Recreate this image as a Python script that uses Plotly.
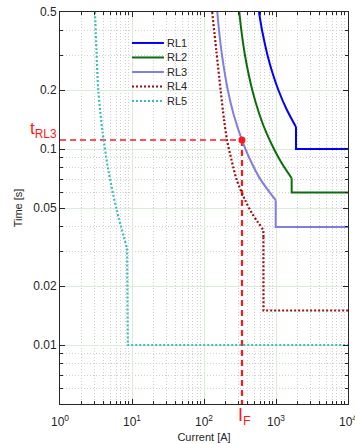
import math
import plotly.graph_objects as go

# ---------------- data ----------------
RL1_curve_I = [580, 643, 764, 877, 1078, 1397, 1896]
RL1_curve_t = [0.5, 0.4, 0.3, 0.25, 0.2, 0.16, 0.1295]
RL1_step_I = [1896, 1896, 10000]
RL1_step_t = [0.1295, 0.1, 0.1]

RL2_curve_I = [309, 331, 371, 468, 589, 741, 937, 1192, 1650]
RL2_curve_t = [0.5, 0.4, 0.3, 0.2, 0.15, 0.12, 0.1, 0.085, 0.0709]
RL2_step_I = [1650, 1650, 10000]
RL2_step_t = [0.0709, 0.06, 0.06]

RL3_curve_I = [153, 162, 178, 214, 258, 337, 426, 608, 990]
RL3_curve_t = [0.5, 0.4, 0.3, 0.2, 0.15, 0.111, 0.09, 0.07, 0.0548]
RL3_step_I = [990, 990, 10000]
RL3_step_t = [0.0548, 0.04, 0.04]

RL4_curve_I = [130, 148, 170, 190, 209, 241, 285, 371, 464, 553, 660, 668]
RL4_curve_t = [0.5, 0.32, 0.2, 0.1406, 0.111, 0.0879, 0.0695, 0.055, 0.047, 0.0426, 0.0386, 0.0355]
RL4_step_I = [668, 670, 10000]
RL4_step_t = [0.0355, 0.015, 0.015]

RL5_curve_I = [3.06, 3.21, 3.40, 3.87, 4.69, 6.13, 8.53]
RL5_curve_t = [0.5, 0.32, 0.2, 0.125, 0.0781, 0.0489, 0.0311]
RL5_step_I = [8.53, 8.75, 10000]
RL5_step_t = [0.0311, 0.01, 0.01]

I_F = 337
t_RL3 = 0.111

X_TICKS = [1, 10, 100, 1000, 10000]
X_TICKTEXT = ["10<sup>0</sup>", "10<sup>1</sup>", "10<sup>2</sup>", "10<sup>3</sup>", "10<sup>4</sup>"]
Y_TICKS = [0.01, 0.02, 0.05, 0.1, 0.2, 0.5]
Y_TICKTEXT = ["0.01", "0.02", "0.05", "0.1", "0.2", "0.5"]
X_MINOR = [m * 10 ** k for k in range(0, 4) for m in range(2, 10)]
Y_MINOR = [0.005, 0.006, 0.007, 0.008, 0.009, 0.03, 0.04, 0.06, 0.07, 0.08, 0.09, 0.3, 0.4]

# ---------------- figure ----------------
series = [
    ("RL1", RL1_curve_I, RL1_curve_t, RL1_step_I, RL1_step_t, "#0000ff", "solid", 2),
    ("RL2", RL2_curve_I, RL2_curve_t, RL2_step_I, RL2_step_t, "#0b6e0b", "solid", 2),
    ("RL3", RL3_curve_I, RL3_curve_t, RL3_step_I, RL3_step_t, "#7f7fe0", "solid", 2),
    ("RL4", RL4_curve_I, RL4_curve_t, RL4_step_I, RL4_step_t, "#981010", "2px,2px", 2.2),
    ("RL5", RL5_curve_I, RL5_curve_t, RL5_step_I, RL5_step_t, "#3cbdb8", "2px,2px", 2.2),
]

fig = go.Figure()

RED = "#ff1a1a"
fig.add_trace(go.Scatter(x=[1, I_F], y=[t_RL3, t_RL3], mode="lines",
                         line=dict(color=RED, width=1.5, dash="6px,4px"),
                         showlegend=False, hoverinfo="skip"))
fig.add_trace(go.Scatter(x=[I_F, I_F], y=[t_RL3, 0.005], mode="lines",
                         line=dict(color=RED, width=2.2, dash="6px,4px"),
                         showlegend=False, hoverinfo="skip"))

for name, ci, ct, si, st, color, dash, w in series:
    fig.add_trace(go.Scatter(x=ci, y=ct, mode="lines", name=name, showlegend=False,
                             line=dict(color=color, width=w, dash=dash, shape="spline", smoothing=0.8)))
    fig.add_trace(go.Scatter(x=si, y=st, mode="lines", name=name, showlegend=False,
                             line=dict(color=color, width=w, dash=dash)))

fig.add_trace(go.Scatter(x=[I_F], y=[t_RL3], mode="markers",
                         marker=dict(color=RED, size=7), showlegend=False))

# manual compact legend (paper coordinates)
leg_y0 = 0.921
leg_dy = 0.037
for i, (name, ci, ct, si, st, color, dash, w) in enumerate(series):
    yy = leg_y0 - i * leg_dy
    fig.add_shape(type="line", xref="paper", yref="paper", x0=0.25, x1=0.361, y0=yy, y1=yy,
                  line=dict(color=color, width=w, dash=dash))
    fig.add_annotation(xref="paper", yref="paper", x=0.366, y=yy, xanchor="left", yanchor="middle",
                       text=name, showarrow=False,
                       font=dict(size=11, color="#262626", family="Liberation Sans"))

axis_common = dict(
    type="log", showline=True, linecolor="#262626", linewidth=1, mirror="allticks",
    ticks="inside", ticklen=5, tickcolor="#262626", tickwidth=1,
    showgrid=True, gridcolor="#d8ecd8", gridwidth=1,
    tickfont=dict(size=12, color="#262626", family="Liberation Sans"),
    ticklabeloverflow="allow", automargin=False,
)
minor_common = dict(tickmode="array", ticks="inside", ticklen=3, tickcolor="#262626",
                    showgrid=True, gridcolor="#d0d0d0", griddash="1px,2px", gridwidth=1)

fig.update_xaxes(**axis_common, range=[0, 4], tickmode="array",
                 tickvals=X_TICKS, ticktext=X_TICKTEXT, ticklabelstandoff=7,
                 minor=dict(**minor_common, tickvals=X_MINOR),
                 title=dict(text="Current [A]", font=dict(size=11, color="#262626"), standoff=4))
fig.update_yaxes(**axis_common, range=[math.log10(0.005), math.log10(0.5)], tickmode="array",
                 tickvals=Y_TICKS, ticktext=Y_TICKTEXT,
                 minor=dict(**minor_common, tickvals=Y_MINOR),
                 title=dict(text="Time [s]", font=dict(size=11, color="#262626"), standoff=8))

fig.add_annotation(x=-0.003, xref="paper", xanchor="right", y=math.log10(t_RL3), yref="y",
                   yanchor="bottom", text="t<sub>RL3</sub>", showarrow=False,
                   font=dict(size=17, color=RED, family="Liberation Sans"), yshift=-3)
fig.add_annotation(x=math.log10(I_F), xref="x", xanchor="center", y=0, yref="paper",
                   yanchor="top", text="I<sub>F</sub>", showarrow=False,
                   font=dict(size=18, color=RED, family="Liberation Sans"), yshift=1, xshift=3)

fig.update_layout(
    width=355, height=444,
    margin=dict(l=60, r=7, t=12, b=40),
    plot_bgcolor="white", paper_bgcolor="white",
    font=dict(family="Liberation Sans", color="#262626"),
    showlegend=False,
)

fig.write_html("out.html")
